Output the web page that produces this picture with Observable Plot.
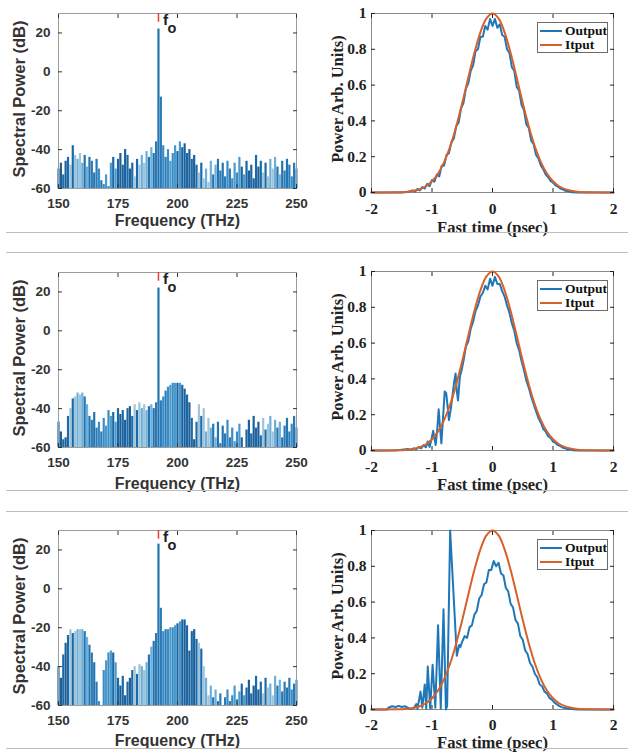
<!DOCTYPE html>
<html><head><meta charset="utf-8">
<script src="https://cdn.jsdelivr.net/npm/d3@7"></script>
<script src="https://cdn.jsdelivr.net/npm/@observablehq/plot@0.6"></script>
<style>
body{margin:0;background:#fff}
#fig{position:relative;width:628px;height:752px;background:#fff;overflow:hidden}
.panel{position:absolute}
.panel svg{overflow:visible}
.sep{position:absolute;left:6px;width:622px;height:1px;background:#bdbdbd}
.legend{position:absolute;width:71px;height:31px;border:1px solid #6a6a6a;background:#fff;font-family:"Liberation Serif","Times New Roman",serif;font-weight:bold;font-size:13.5px;color:#111;box-sizing:border-box;padding-left:2px;padding-top:1px}
.legend .row{display:flex;align-items:center;height:14px;white-space:nowrap}
.legend .sw{display:inline-block;width:22px;height:2px;margin-right:3px}
</style></head>
<body><div id="fig"></div>
<script>
// ---------- data ----------
const freqTHz = [150,151,152,153,154,155,156,157,158,159,160,161,162,163,164,165,166,167,168,169,170,171,172,173,174,175,176,177,178,179,180,181,182,183,184,185,186,187,188,189,190,191,192,193,194,195,196,197,198,199,200,201,202,203,204,205,206,207,208,209,210,211,212,213,214,215,216,217,218,219,220,221,222,223,224,225,226,227,228,229,230,231,232,233,234,235,236,237,238,239,240,241,242,243,244,245,246,247,248,249,250];
const specA = [-50,-47,-53,-46,-44,-48,-38,-43,-45,-42,
 -47,-43,-49,-44,-46,-52,-45,-50,-56,-58,
 -53,-59,-47,-44,-50,-45,-42,-48,-40,-43,
 -50,-47,-54,-45,-48,-43,-47,-41,-44,-39,
 -42,-36,22,-13,-38,-44,-40,-46,-42,-38,
 -41,-36,-39,-37,-42,-40,-45,-43,-48,-52,
 -47,-55,-50,-57,-46,-53,-48,-45,-51,-47,
 -54,-46,-50,-55,-47,-52,-44,-49,-53,-46,
 -51,-48,-55,-43,-49,-46,-52,-47,-54,-45,
 -50,-44,-49,-53,-46,-51,-45,-48,-54,-47,
 -50];
const specB = [-47,-52,-56,-55,-44,-40,-35,-34,-32,-33,
 -32,-34,-38,-44,-46,-42,-50,-47,-52,-45,
 -49,-41,-44,-42,-47,-40,-43,-41,-46,-40,
 -39,-44,-38,-41,-37,-40,-38,-41,-39,-38,
 -40,-37,22,-36,-34,-31,-29,-28,-27,-27,
 -27,-27,-28,-30,-33,-37,-45,-56,-47,-38,
 -44,-40,-52,-45,-50,-48,-55,-47,-58,-49,
 -53,-46,-55,-50,-57,-52,-48,-55,-60,-51,
 -46,-53,-44,-50,-47,-54,-45,-51,-48,-44,
 -52,-46,-50,-47,-55,-49,-45,-52,-48,-44,
 -50];
const specC = [-40,-46,-34,-28,-24,-21,-23,-22,-21,-21,
 -21,-22,-25,-29,-33,-38,-48,-58,-60,-42,
 -37,-33,-32,-33,-38,-46,-50,-45,-55,-48,
 -46,-42,-40,-44,-39,-40,-42,-38,-34,-30,
 -27,-23,23,-10,-22,-21,-21,-20,-20,-19,
 -18,-17,-16,-16,-19,-32,-22,-21,-26,-28,
 -31,-40,-46,-55,-50,-56,-52,-58,-54,-60,
 -56,-52,-58,-55,-50,-57,-53,-49,-55,-51,
 -47,-54,-50,-45,-52,-48,-54,-46,-51,-49,
 -55,-45,-50,-47,-53,-48,-51,-46,-52,-49,
 -47];
const carrierTHz = 192;
const freqTicks = [150,175,200,225,250];
const dbTicks = [-60,-40,-20,0,20];

const inputT = [-2,-1.8,-1.6,-1.5,-1.4,-1.3,-1.2,-1.1,-1,-0.9,-0.8,-0.7,-0.6,-0.5,-0.4,-0.3,-0.2,-0.1,0,0.1,0.2,0.3,0.4,0.5,0.6,0.7,0.8,0.9,1,1.1,1.2,1.3,1.4,1.5,1.6,1.8,2];
const inputP = [0,0,0.0008,0.002,0.0044,0.0093,0.0185,0.035,0.063,0.106,0.170,0.257,0.369,0.500,0.642,0.779,0.895,0.973,1,0.973,0.895,0.779,0.642,0.500,0.369,0.257,0.170,0.106,0.063,0.035,0.0185,0.0093,0.0044,0.002,0.0008,0,0];

const output1 = [[-2,0],[-1.5,0],[-1.4,0.003],[-1.32,0.012],[-1.28,0.005],[-1.24,0.02],[-1.2,0.012],[-1.16,0.03],[-1.12,0.022],[-1.08,0.048],[-1.04,0.035],[-1,0.07],[-0.96,0.06],[-0.92,0.1],[-0.88,0.09],[-0.84,0.15],[-0.8,0.15],[-0.76,0.21],[-0.72,0.22],[-0.68,0.28],[-0.64,0.3],[-0.6,0.37],[-0.56,0.39],[-0.52,0.47],[-0.48,0.5],[-0.44,0.58],[-0.4,0.61],[-0.36,0.68],[-0.32,0.71],[-0.28,0.79],[-0.24,0.8],[-0.2,0.87],[-0.16,0.87],[-0.12,0.93],[-0.08,0.91],[-0.04,0.97],[0,0.93],[0.04,0.97],[0.08,0.92],[0.12,0.94],[0.16,0.88],[0.2,0.87],[0.24,0.8],[0.28,0.78],[0.32,0.7],[0.36,0.68],[0.4,0.59],[0.44,0.57],[0.48,0.49],[0.52,0.46],[0.56,0.38],[0.6,0.36],[0.64,0.29],[0.68,0.27],[0.72,0.21],[0.76,0.19],[0.8,0.15],[0.84,0.13],[0.88,0.1],[0.92,0.085],[0.96,0.065],[1,0.055],[1.04,0.04],[1.08,0.033],[1.12,0.022],[1.16,0.018],[1.2,0.01],[1.24,0.008],[1.28,0.004],[1.32,0.002],[1.4,0],[2,0]];
const output2 = [[-2,0],[-1.6,0],[-1.5,0.004],[-1.4,0.008],[-1.35,0.003],[-1.3,0.012],[-1.26,0.006],[-1.22,0.02],[-1.18,0.012],[-1.14,0.03],[-1.1,0.018],[-1.07,0.05],[-1.04,0.02],[-1.01,0.06],[-0.98,0.11],[-0.96,0.07],[-0.94,0.03],[-0.91,0.13],[-0.89,0.23],[-0.87,0.14],[-0.845,0.04],[-0.82,0.17],[-0.79,0.33],[-0.765,0.32],[-0.74,0.24],[-0.72,0.17],[-0.69,0.23],[-0.66,0.31],[-0.635,0.38],[-0.61,0.43],[-0.59,0.33],[-0.57,0.28],[-0.54,0.41],[-0.51,0.45],[-0.48,0.5],[-0.44,0.58],[-0.4,0.61],[-0.36,0.68],[-0.32,0.72],[-0.28,0.78],[-0.24,0.81],[-0.2,0.86],[-0.16,0.88],[-0.12,0.92],[-0.08,0.9],[-0.04,0.96],[0,0.92],[0.04,0.97],[0.08,0.93],[0.12,0.93],[0.16,0.89],[0.2,0.86],[0.24,0.81],[0.28,0.77],[0.32,0.71],[0.36,0.67],[0.4,0.6],[0.44,0.56],[0.48,0.5],[0.52,0.45],[0.56,0.39],[0.6,0.35],[0.64,0.3],[0.68,0.26],[0.72,0.22],[0.76,0.18],[0.8,0.155],[0.84,0.12],[0.88,0.105],[0.92,0.08],[0.96,0.07],[1,0.05],[1.04,0.042],[1.08,0.03],[1.12,0.025],[1.16,0.015],[1.2,0.012],[1.24,0.006],[1.28,0.005],[1.32,0.002],[1.4,0],[2,0]];
const output3 = [[-2,0],[-1.75,0],[-1.72,0.01],[-1.66,0.018],[-1.6,0.014],[-1.55,0.02],[-1.5,0.014],[-1.45,0.018],[-1.4,0.01],[-1.35,0.002],[-1.3,0.008],[-1.26,0.03],[-1.24,0.004],[-1.19,0.1],[-1.16,0.01],[-1.12,0.14],[-1.095,0.005],[-1.07,0.24],[-1.03,0.005],[-0.99,0.25],[-0.945,0.01],[-0.9,0.47],[-0.855,0.005],[-0.81,0.56],[-0.77,0],[-0.75,0.02],[-0.7,1.0],[-0.645,0.65],[-0.59,0.3],[-0.57,0.33],[-0.55,0.36],[-0.53,0.35],[-0.5,0.38],[-0.46,0.41],[-0.42,0.4],[-0.38,0.46],[-0.34,0.47],[-0.3,0.53],[-0.26,0.55],[-0.22,0.62],[-0.18,0.64],[-0.14,0.7],[-0.1,0.71],[-0.06,0.78],[-0.02,0.78],[0.02,0.83],[0.06,0.8],[0.1,0.82],[0.14,0.76],[0.18,0.75],[0.22,0.68],[0.26,0.66],[0.3,0.59],[0.34,0.57],[0.38,0.5],[0.42,0.48],[0.46,0.41],[0.5,0.39],[0.54,0.33],[0.58,0.31],[0.62,0.26],[0.66,0.24],[0.7,0.2],[0.74,0.18],[0.78,0.14],[0.82,0.13],[0.86,0.1],[0.9,0.09],[0.94,0.065],[0.98,0.055],[1.02,0.04],[1.06,0.03],[1.1,0.02],[1.15,0.012],[1.2,0.008],[1.3,0.003],[1.4,0],[2,0]];
const timeTicks = [-2,-1,0,1,2];
const powerTicks = [0,0.2,0.4,0.6,0.8,1];
const seriesNames = ["Output", "Itput"];

// ---------- style ----------
const shades = ["#1b67a5","#3a8cc5","#2474b2","#9fc3d8","#1d5f99","#4a9acd","#2a7ab6","#6cb0da","#1a6aa8"];
const blue = "#1f77b8", orange = "#d8602a";
const fig = document.getElementById("fig");

const rows = [
  {top: 0,   h: 232, L: {mt: 13, mb: 44, xl: 32}, R: {mt: 13, mb: 40, xl: 35, tp: 14}, spec: specA, out: output1},
  {top: 252, h: 238, L: {mt: 20, mb: 43, xl: 36}, R: {mt: 19, mb: 40, xl: 34, tp: 14}, spec: specB, out: output2},
  {top: 512, h: 236, L: {mt: 18, mb: 43, xl: 35}, R: {mt: 18, mb: 39, xl: 33, tp: 13}, spec: specC, out: output3}
];

function place(el, left, top) {
  const d = document.createElement("div");
  d.className = "panel";
  d.style.left = left + "px"; d.style.top = top + "px";
  d.appendChild(el); fig.appendChild(d);
}

function specPlot(vals, h, c) {
  const data = freqTHz.map((f, i) => ({f, v: vals[i], c: shades[(i * 4 + Math.floor(i / 3)) % shades.length]}));
  const ink = "#333";
  return Plot.plot({
    width: 310, height: h,
    marginLeft: 58, marginRight: 14, marginTop: c.mt, marginBottom: c.mb,
    x: {domain: [150, 250]}, y: {domain: [-60, 30]}, color: {type: "identity"},
    style: {fontFamily: "'Liberation Sans', Arial, sans-serif", fontWeight: "bold", fontSize: "13.5px", color: ink, background: "transparent"},
    marks: [
      Plot.ruleX(data, {x: "f", y1: -60, y2: "v", stroke: d => d.c, strokeWidth: 2.2}),
      Plot.frame({stroke: "#9c9c9c"}),
      Plot.axisX({ticks: freqTicks, anchor: "bottom", tickSize: -4, tickPadding: 14, tickFormat: d => String(d), label: null, stroke: ink}),
      Plot.axisX({ticks: freqTicks, anchor: "top", tickSize: -4, tickFormat: () => "", label: null, stroke: ink}),
      Plot.axisY({ticks: dbTicks, anchor: "left", tickSize: -4, tickPadding: 12, tickFormat: d => String(d), label: null, stroke: ink}),
      Plot.axisY({ticks: dbTicks, anchor: "right", tickSize: -4, tickFormat: () => "", label: null, stroke: ink}),
      Plot.ruleX([carrierTHz], {x: d => d, y1: 25.5, y2: 30, stroke: "#e0413a", strokeWidth: 1.5}),
      Plot.text([carrierTHz], {x: d => d, text: () => "f", frameAnchor: "top", dx: 7, dy: 7, fontSize: 15.5, fontWeight: "bold", fill: "#222", lineAnchor: "middle"}),
      Plot.text([carrierTHz], {x: d => d, text: () => "o", frameAnchor: "top", dx: 13.5, dy: 15, fontSize: 14.5, fontWeight: "bold", fill: "#222", lineAnchor: "middle"}),
      Plot.text(["Frequency (THz)"], {text: d => d, frameAnchor: "bottom", dy: c.xl, lineAnchor: "middle", textAnchor: "middle", fontSize: 16, fontWeight: "bold", fill: "#333"}),
      Plot.text(["Spectral Power (dB)"], {text: d => d, frameAnchor: "left", dx: -39, dy: -2, rotate: -90, lineAnchor: "middle", textAnchor: "middle", fontSize: 16.5, fontWeight: "bold", fill: "#333"})
    ]
  });
}

function timePlot(out, h, c) {
  const inputData = inputT.map((t, i) => [t, inputP[i]]);
  const ink = "#222";
  return Plot.plot({
    width: 318, height: h,
    marginLeft: 61, marginRight: 15, marginTop: c.mt, marginBottom: c.mb,
    x: {domain: [-2, 2]}, y: {domain: [0, 1]},
    style: {fontFamily: "'Liberation Serif', 'Times New Roman', serif", fontWeight: "bold", fontSize: "15.5px", color: ink, background: "transparent"},
    marks: [
      Plot.frame({stroke: "#8a8a8a"}),
      Plot.line(out, {x: d => d[0], y: d => d[1], stroke: blue, strokeWidth: 2}),
      Plot.line(inputData, {x: d => d[0], y: d => d[1], stroke: orange, strokeWidth: 2, curve: "catmull-rom"}),
      Plot.axisX({ticks: timeTicks, anchor: "bottom", tickSize: -4, tickPadding: c.tp, tickFormat: d => String(d), label: null, stroke: ink}),
      Plot.axisX({ticks: timeTicks, anchor: "top", tickSize: -4, tickFormat: () => "", label: null, stroke: ink}),
      Plot.axisY({ticks: powerTicks, anchor: "left", tickSize: -4, tickPadding: 9, tickFormat: d => String(d), label: null, stroke: ink}),
      Plot.axisY({ticks: powerTicks, anchor: "right", tickSize: -4, tickFormat: () => "", label: null, stroke: ink}),
      Plot.text(["Fast time (psec)"], {text: d => d, frameAnchor: "bottom", dy: c.xl, lineAnchor: "middle", textAnchor: "middle", fontSize: 16.5, fontWeight: "bold", fill: ink}),
      Plot.text(["Power Arb. Units)"], {text: d => d, frameAnchor: "left", dx: -34, dy: -4, rotate: -90, lineAnchor: "middle", textAnchor: "middle", fontSize: 16.5, fontWeight: "bold", fill: ink})
    ]
  });
}

rows.forEach(r => {
  place(specPlot(r.spec, r.h, r.L), 0, r.top);
  place(timePlot(r.out, r.h, r.R), 310, r.top);
  const lg = document.createElement("div");
  lg.className = "legend";
  lg.style.left = "537px"; lg.style.top = (r.top + r.R.mt + 9) + "px";
  lg.innerHTML = seriesNames.map((n, i) =>
    `<div class="row"><span class="sw" style="background:${i === 0 ? blue : orange}"></span>${n}</div>`).join("");
  fig.appendChild(lg);
});

[232, 252, 490, 511, 748].forEach(y => {
  const s = document.createElement("div");
  s.className = "sep"; s.style.top = y + "px";
  fig.appendChild(s);
});
</script></body></html>
